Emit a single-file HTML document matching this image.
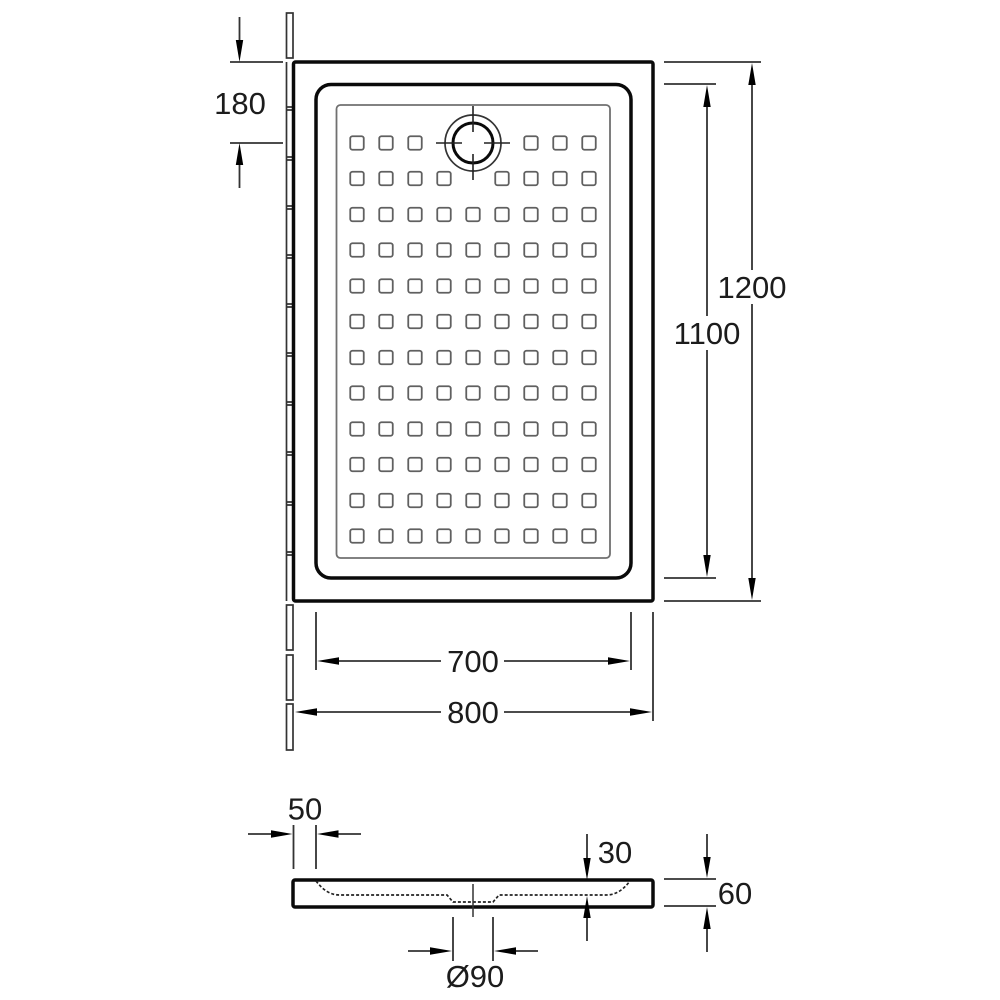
<!DOCTYPE html>
<html><head><meta charset="utf-8"><style>
html,body{margin:0;padding:0;background:#fff}
svg{display:block}
text{font-family:"Liberation Sans",sans-serif;font-size:31px;fill:#1c1c1c;text-anchor:middle}
.d{stroke:#333;stroke-width:1.8;fill:none}
.t{stroke:#0a0a0a;stroke-width:3.5;fill:none}
.s{stroke:#606060;stroke-width:1.8;fill:#fff}
.a{fill:#000;stroke:none}
</style></head><body>
<svg width="1000" height="1000" viewBox="0 0 1000 1000" xmlns="http://www.w3.org/2000/svg">
<defs>
<rect id="q" x="-6.750" y="-6.750" width="13.500" height="13.500" rx="2.200" class="s"/>
<g id="row">
<use href="#q" x="357"/><use href="#q" x="386"/><use href="#q" x="415"/><use href="#q" x="444"/><use href="#q" x="473"/><use href="#q" x="502"/><use href="#q" x="531"/><use href="#q" x="560"/><use href="#q" x="589"/>
</g>
</defs>
<!-- side strip -->
<g stroke="#333" stroke-width="1.700" fill="#fff">
<rect x="286.500" y="13" width="6.500" height="45"/>
<rect x="286.500" y="605" width="6.500" height="45"/>
<rect x="286.500" y="655" width="6.500" height="45"/>
<rect x="286.500" y="704" width="6.500" height="46"/>
<path d="M286.500 62V601" fill="none"/>
<path d="M286.500 107h6M286.500 110h6M286.500 157h6M286.500 160h6M286.500 206h6M286.500 209h6M286.500 255h6M286.500 258h6M286.500 304h6M286.500 307h6M286.500 353h6M286.500 356h6M286.500 402h6M286.500 405h6M286.500 452h6M286.500 455h6M286.500 502h6M286.500 505h6M286.500 552h6M286.500 555h6" fill="none"/>
</g>
<!-- tray -->
<rect x="293.500" y="62" width="359.500" height="539" rx="2" class="t"/>
<rect x="316" y="84.500" width="315" height="493.500" rx="15" class="t"/>
<rect x="336.500" y="105" width="273.500" height="453" rx="4" fill="none" stroke="#707070" stroke-width="1.800"/>
<!-- squares -->
<g>
<use href="#q" x="357" y="143"/><use href="#q" x="386" y="143"/><use href="#q" x="415" y="143"/><use href="#q" x="531" y="143"/><use href="#q" x="560" y="143"/><use href="#q" x="589" y="143"/>
<use href="#q" x="357" y="178.500"/><use href="#q" x="386" y="178.500"/><use href="#q" x="415" y="178.500"/><use href="#q" x="444" y="178.500"/><use href="#q" x="502" y="178.500"/><use href="#q" x="531" y="178.500"/><use href="#q" x="560" y="178.500"/><use href="#q" x="589" y="178.500"/>
<use href="#row" y="214.500"/><use href="#row" y="250"/><use href="#row" y="286"/><use href="#row" y="321.500"/><use href="#row" y="357.500"/><use href="#row" y="393"/><use href="#row" y="429"/><use href="#row" y="464.500"/><use href="#row" y="500.500"/><use href="#row" y="536"/>
</g>
<!-- drain -->
<circle cx="473" cy="143" r="28" fill="none" stroke="#333" stroke-width="1.700"/>
<circle cx="473" cy="143" r="20" fill="none" stroke="#0a0a0a" stroke-width="3"/>
<path d="M436 143H462M484 143H510M473 106V132M473 154V180" stroke="#222" stroke-width="1.600" fill="none"/>
<!-- 180 -->
<path class="d" d="M230 62H283M230 143H283M239.500 17V45M239.500 160V188"/>
<path class="a" d="M239.500 62L235.800 40H243.200ZM239.500 143L235.800 165H243.200Z"/>
<text x="240" y="114">180</text>
<!-- 1200 -->
<path class="d" d="M664 62H761M664 601H761M752 80V270M752 304V580"/>
<path class="a" d="M752 63L748.300 85H755.700ZM752 600L748.300 578H755.700Z"/>
<text x="752" y="298">1200</text>
<!-- 1100 -->
<path class="d" d="M664 84H716M664 578H716M707 100V316M707 350V560"/>
<path class="a" d="M707 85L703.300 107H710.700ZM707 577L703.300 555H710.700Z"/>
<text x="707" y="344">1100</text>
<!-- 700 -->
<path class="d" d="M316 612V670M631 612V670M335 661H441M504 661H612"/>
<path class="a" d="M317 661L339 657.300V664.700ZM630 661L608 657.300V664.700Z"/>
<text x="473" y="672">700</text>
<!-- 800 -->
<path class="d" d="M653 612V721M315 712H441M504 712H632"/>
<path class="a" d="M295 712L317 708.300V715.700ZM652 712L630 708.300V715.700Z"/>
<text x="473" y="723">800</text>
<!-- section -->
<rect x="293" y="880" width="360" height="27" rx="2" class="t"/>
<path d="M316 881C323 890 330 895 340 895H447L453 902H493L499 895H606C616 895 623 890 630 881" fill="none" stroke="#222" stroke-width="1.700" stroke-dasharray="3 2"/>
<path d="M473 884V917" stroke="#333" stroke-width="1.500" fill="none"/>
<!-- 50 -->
<path class="d" d="M293.500 825V869M316 825V869M248 834H275M334 834H361"/>
<path class="a" d="M292.500 834L271 830.300V837.700ZM317 834L338.500 830.300V837.700Z"/>
<text x="305" y="819.500">50</text>
<!-- 90 -->
<path class="d" d="M453 917V961M493 917V961M408 951H435M511 951H538"/>
<path class="a" d="M452 951L430 947.300V954.700ZM494 951L516 947.300V954.700Z"/>
<text x="475" y="987">Ø90</text>
<!-- 30 -->
<path class="d" d="M587 834V860M587 915V941"/>
<path class="a" d="M587 880L583.300 858H590.700ZM587 896L583.300 918H590.700Z"/>
<text x="615" y="863">30</text>
<!-- 60 -->
<path class="d" d="M664 879H716M664 906H716M707 834V860M707 925V952"/>
<path class="a" d="M707 878L703.300 857H710.700ZM707 907L703.300 929H710.700Z"/>
<text x="735" y="904">60</text>
</svg>
</body></html>
